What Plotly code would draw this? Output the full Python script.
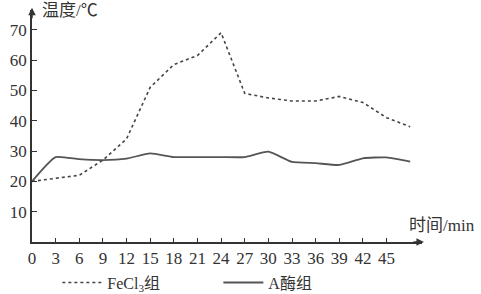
import plotly.graph_objects as go

time_min = [0, 3, 6, 9, 12, 15, 18, 21, 24, 27, 30, 33, 36, 39, 42, 45, 48]
fecl3 = [20, 21, 22, 27, 34, 51, 58.5, 61.5, 69, 49, 47.5, 46.5, 46.5, 48, 46, 41, 38]
enzyme = [20, 28, 27.3, 27, 27.5, 29.2, 28, 28, 28, 28, 29.8, 26.4, 26, 25.4, 27.6, 27.9, 26.5]
x_ticks = [0, 3, 6, 9, 12, 15, 18, 21, 24, 27, 30, 33, 36, 39, 42, 45]
y_ticks = [10, 20, 30, 40, 50, 60, 70]

FONT = "'Liberation Serif', 'Noto Sans CJK SC', serif"
INK = "#333333"

fig = go.Figure()
fig.add_trace(go.Scatter(x=time_min, y=fecl3, mode="lines", name="FeCl<sub>3</sub>组",
                         line=dict(color="#444444", width=1.6, dash="dot")))
fig.add_trace(go.Scatter(x=time_min, y=enzyme, mode="lines", name="A酶组",
                         line=dict(color="#555555", width=1.8, shape="spline", smoothing=0.5)))

fig.update_layout(
    width=481, height=294,
    margin=dict(l=32, r=59, t=10, b=52, autoexpand=False),
    paper_bgcolor="white", plot_bgcolor="white",
    font=dict(family=FONT, size=17, color=INK),
    showlegend=True,
    legend=dict(orientation="h", x=0.065, xanchor="left", y=-0.175, yanchor="middle",
                entrywidth=106, font=dict(size=16), bgcolor="rgba(0,0,0,0)",
                tracegroupgap=0, itemwidth=40),
    xaxis=dict(range=[0, 49.5], tickvals=x_ticks, ticktext=[str(v) for v in x_ticks],
               showline=True, linecolor=INK, linewidth=1.5, showgrid=False, zeroline=False,
               ticks="inside", ticklen=4, tickcolor=INK, tickwidth=1.2,
               tickfont=dict(size=17)),
    yaxis=dict(range=[0, 76.5], tickvals=y_ticks, showline=True, linecolor=INK, linewidth=1.5,
               showgrid=False, zeroline=False, ticks="inside", ticklen=5, tickcolor=INK,
               tickwidth=1.2, tickfont=dict(size=17)),
)

# axis arrows
fig.add_annotation(x=1.005, y=0, xref="x domain", yref="y domain", ax=-12, ay=0,
                   axref="pixel", ayref="pixel", showarrow=True, arrowhead=2, arrowsize=1,
                   arrowwidth=1.5, arrowcolor=INK, text="")
fig.add_annotation(x=0, y=1.01, xref="x domain", yref="y domain", ax=0, ay=12,
                   axref="pixel", ayref="pixel", showarrow=True, arrowhead=2, arrowsize=1,
                   arrowwidth=1.5, arrowcolor=INK, text="")

fig.add_annotation(x=0.02, y=1.0, xref="x domain", yref="paper", text="温度/℃",
                   showarrow=False, xanchor="left", yanchor="middle", font=dict(size=17))
fig.add_annotation(x=1.141, y=0.07, xref="paper", yref="y domain", text="时间/min",
                   showarrow=False, xanchor="right", yanchor="middle", font=dict(size=17))

fig.write_html("out.html")
